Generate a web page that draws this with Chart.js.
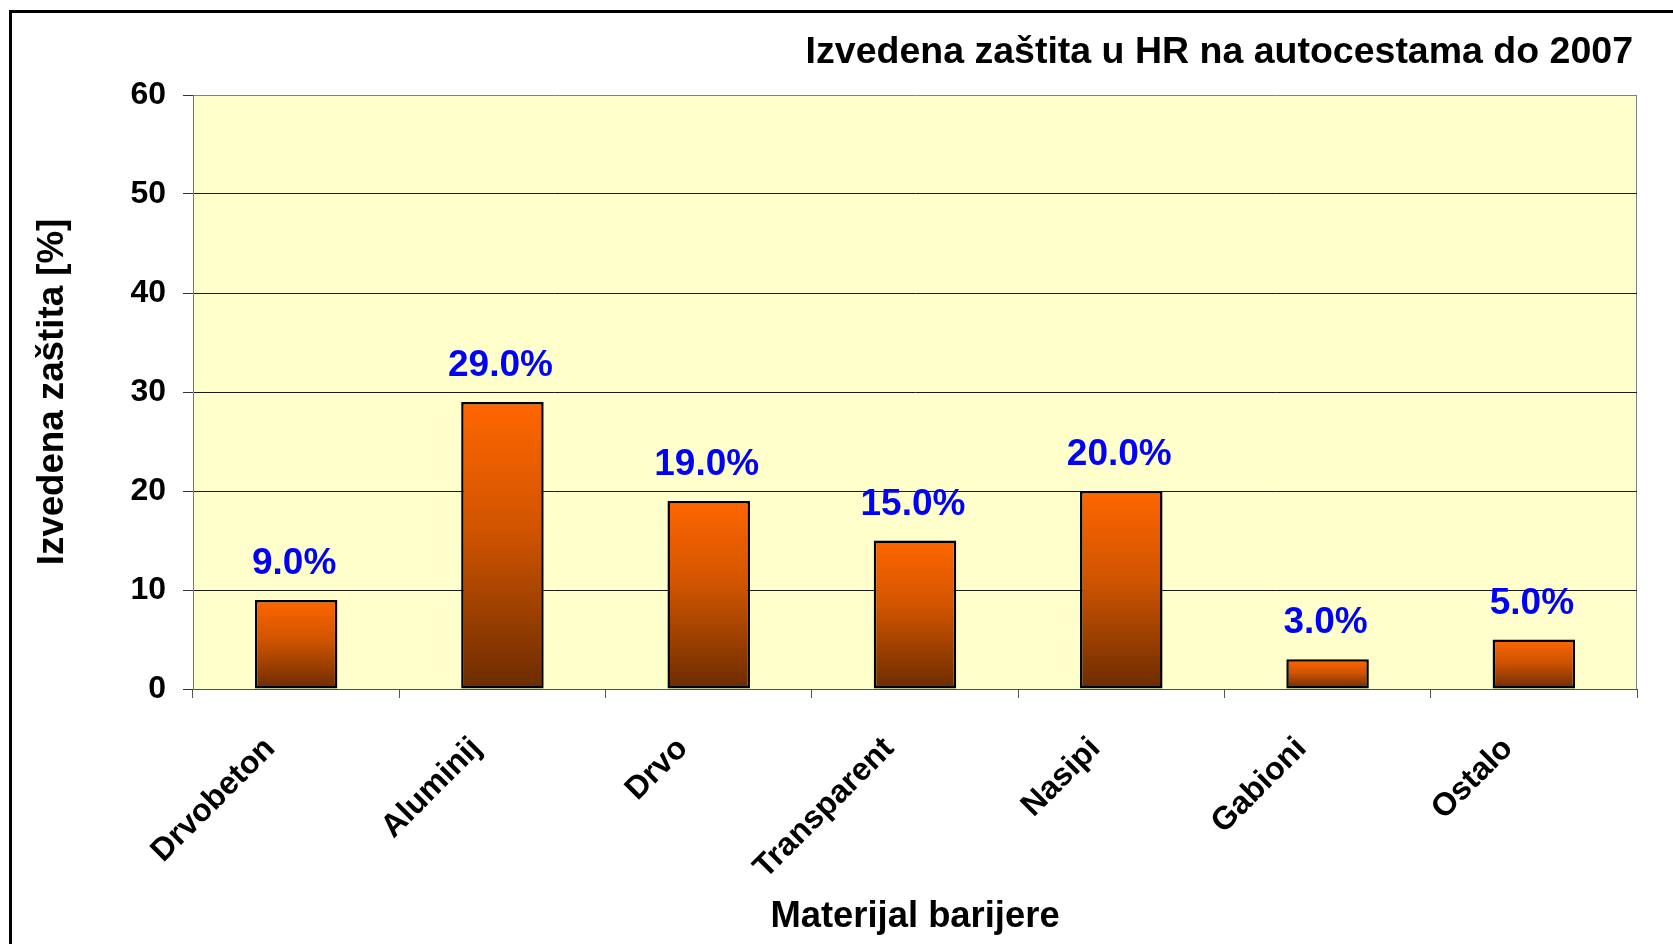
<!DOCTYPE html>
<html><head><meta charset="utf-8">
<script src="https://cdn.jsdelivr.net/npm/chart.js@4.4.1/dist/chart.umd.min.js"></script>
<style>
html,body{margin:0;padding:0;background:#fff;overflow:hidden;}
#frame{position:absolute;left:9px;top:10px;width:2000px;height:2000px;border:3px solid #000;}
#c{position:absolute;left:0;top:0;}
</style></head><body>
<div id="frame"></div>
<canvas id="c" width="1673" height="944"></canvas>
<script>
const categories = ['Drvobeton', 'Aluminij', 'Drvo', 'Transparent', 'Nasipi', 'Gabioni', 'Ostalo'];
const shares = [9, 29, 19, 15, 20, 3, 5];
const yTicks = [0, 10, 20, 30, 40, 50, 60];
const chartTitle = 'Izvedena zaštita u HR na autocestama do 2007';
const yTitle = 'Izvedena zaštita [%]';
const xTitle = 'Materijal barijere';

const FAMILY = '"Liberation Sans", Arial, sans-serif';

const plotBg = {
  id: 'plotBg',
  beforeDraw(chart) {
    const {ctx, chartArea: a} = chart;
    ctx.save();
    ctx.fillStyle = '#FFFFCC';
    ctx.fillRect(a.left, a.top, a.right - a.left, a.bottom - a.top);
    ctx.strokeStyle = '#808080';
    ctx.lineWidth = 1;
    ctx.beginPath();
    ctx.moveTo(Math.round(a.right) - 0.5, a.top);
    ctx.lineTo(Math.round(a.right) - 0.5, a.bottom);
    ctx.stroke();
    ctx.restore();
  },
  afterLayout(chart) {
    if (chart.titleBlock) chart.titleBlock.right = chart.chartArea.right - 4;
  }
};

const valueLabels = {
  id: 'valueLabels',
  afterDatasetsDraw(chart) {
    const ctx = chart.ctx;
    const meta = chart.getDatasetMeta(0);
    ctx.save();
    ctx.font = 'bold 37px ' + FAMILY;
    ctx.fillStyle = '#0000FF';
    ctx.textAlign = 'center';
    ctx.textBaseline = 'alphabetic';
    meta.data.forEach((bar, i) => {
      ctx.fillText(shares[i].toFixed(1) + '%', bar.x - 2, bar.y - 26);
    });
    ctx.restore();
  }
};

function barGradient(c) {
  const chart = c.chart;
  if (c.type !== 'data' || !chart.chartArea) return '#FF6600';
  const ys = chart.scales.y;
  const top = ys.getPixelForValue(c.raw);
  const base = ys.getPixelForValue(0);
  const g = chart.ctx.createLinearGradient(0, top, 0, base);
  g.addColorStop(0, '#FF6600');
  g.addColorStop(0.45, '#D05400');
  g.addColorStop(1, '#6C2C00');
  return g;
}

new Chart(document.getElementById('c'), {
  type: 'bar',
  data: {
    labels: categories,
    datasets: [{
      data: shares,
      backgroundColor: barGradient,
      borderColor: '#000000',
      borderWidth: 2.5,
      borderSkipped: false,
      barPercentage: 0.4,
      categoryPercentage: 1.0
    }]
  },
  options: {
    responsive: false,
    animation: false,
    devicePixelRatio: 1,
    layout: {padding: {left: 0, right: 36, top: 0, bottom: 0}},
    plugins: {
      legend: {display: false},
      tooltip: {enabled: false},
      title: {
        display: true,
        text: chartTitle,
        align: 'end',
        color: '#000',
        font: {family: FAMILY, size: 37.5, weight: 'bold'},
        padding: {top: 30, bottom: 20}
      }
    },
    scales: {
      x: {
        ticks: {
          font: {family: FAMILY, size: 32, weight: 'bold'},
          color: '#000',
          maxRotation: 45, minRotation: 45,
          autoSkip: false,
          padding: 32,
          labelOffset: -26
        },
        grid: {display: true, drawOnChartArea: false, drawTicks: true, tickLength: 9, tickColor: '#555', offset: true},
        border: {color: '#4d4d4d', width: 1},
        title: {
          display: true, text: xTitle, color: '#000',
          font: {family: FAMILY, size: 36.4, weight: 'bold'},
          padding: {top: 0, bottom: 5}
        },
        afterFit(scale) { scale.height = 944 - 689; }
      },
      y: {
        min: 0, max: 60,
        afterBuildTicks(scale) { scale.ticks = yTicks.map(v => ({value: v})); },
        ticks: {
          font: {family: FAMILY, size: 32, weight: 'bold'},
          color: '#000',
          padding: 17
        },
        grid: {
          color(c) { return c.tick && c.tick.value === 60 ? '#808080' : '#1a1a1a'; },
          lineWidth: 1,
          tickLength: 10,
          tickColor: '#333'
        },
        border: {color: '#777', width: 1},
        title: {
          display: true, text: yTitle, color: '#000',
          font: {family: FAMILY, size: 36.7, weight: 'bold'},
          padding: {top: 31, bottom: 0}
        },
        afterFit(scale) { scale.width = 193; }
      }
    }
  },
  plugins: [plotBg, valueLabels]
});
</script>
</body></html>
